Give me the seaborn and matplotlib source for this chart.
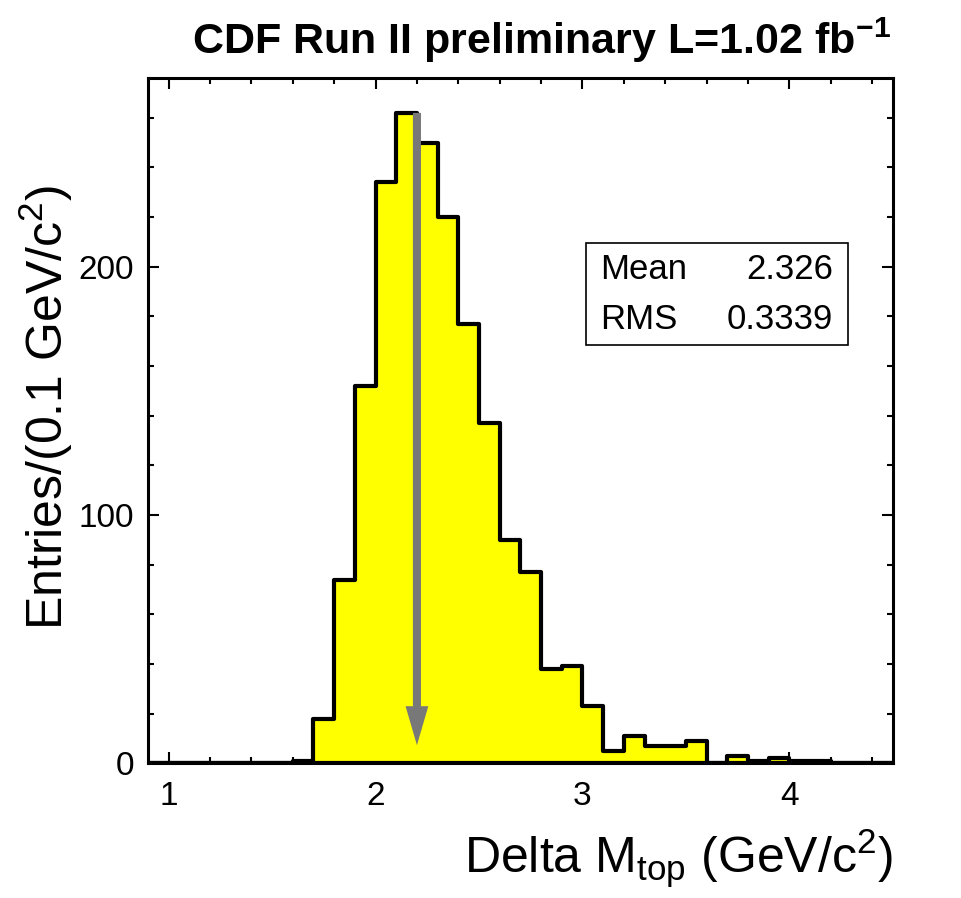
import numpy as np
import pandas as pd
import seaborn as sns
import matplotlib.pyplot as plt
from matplotlib.patches import Rectangle
from matplotlib.ticker import MultipleLocator

# Histogram contents, 0.1 GeV/c^2 bins (lower bin edges)
bin_lo = [1.6, 1.7, 1.8, 1.9, 2.0, 2.1, 2.2, 2.3, 2.4, 2.5, 2.6, 2.7, 2.8,
          2.9, 3.0, 3.1, 3.2, 3.3, 3.4, 3.5, 3.6, 3.7, 3.8, 3.9, 4.0, 4.1]
counts = [1, 18, 74, 152, 234, 262, 250, 220, 177, 137, 90, 77, 38,
          39, 23, 5, 11, 7, 7, 9, 0, 3, 1, 2, 1, 1]
x_min, x_max = 0.9, 4.5
n_bins = 36
y_max = 276
mean_val = "2.326"
rms_val = "0.3339"
arrow_x = 2.2
arrow_top, arrow_tip = 262, 7.3

df = pd.DataFrame({"x": [b + 0.05 for b in bin_lo], "w": counts})

sns.set_theme(style="ticks")
plt.rcParams["font.family"] = ["Liberation Sans", "DejaVu Sans"]
plt.rcParams["mathtext.fontset"] = "custom"
plt.rcParams["mathtext.rm"] = "Liberation Sans"
plt.rcParams["text.color"] = "black"
plt.rcParams["axes.labelcolor"] = "black"

fig = plt.figure(figsize=(9.61, 8.98), dpi=100)
ax = fig.add_axes([0.154, 0.150, 0.775, 0.763])

sns.histplot(data=df, x="x", weights="w", bins=n_bins, binrange=(x_min, x_max),
             element="step", fill=True, color="#ffff00", edgecolor="black",
             linewidth=3, alpha=1, ax=ax)

# arrow marking the cut value
ax.arrow(arrow_x, arrow_top, 0, arrow_tip - arrow_top, width=0.039,
         head_width=0.11, head_length=15.7, length_includes_head=True,
         fc="#787878", ec="none", zorder=5)

ax.set_xlim(x_min, x_max)
ax.set_ylim(0, y_max)
ax.xaxis.set_major_locator(MultipleLocator(1))
ax.xaxis.set_minor_locator(MultipleLocator(0.2))
ax.yaxis.set_major_locator(MultipleLocator(100))
ax.yaxis.set_minor_locator(MultipleLocator(20))
ax.tick_params(which="both", direction="in", top=True, right=True,
               labelsize=24, width=1.5, colors="black")
ax.tick_params(which="major", length=8, pad=10)
ax.tick_params(axis="x", which="major", pad=13)
ax.tick_params(which="minor", length=4.5)
for s in ax.spines.values():
    s.set_linewidth(2.2)
    s.set_color("black")

ax.set_xlabel(r"Delta M$\mathregular{_{top}}$ (GeV/c$\mathregular{^2}$)",
              fontsize=36, loc="right")
ax.set_ylabel(r"Entries/(0.1 GeV/c$\mathregular{^2}$)", fontsize=36, loc="top")
ax.yaxis.set_label_coords(-0.098, 0.844)
ax.xaxis.set_label_coords(1.0, -0.093)

fig.text(0.563, 0.955, r"CDF Run II preliminary L=1.02 fb$\mathregular{^{-1}}$",
         fontsize=31, fontweight="bold", ha="center", va="center")

# statistics box
ax.add_patch(Rectangle((0.588, 0.61), 0.352, 0.149, transform=ax.transAxes,
                       fill=False, edgecolor="black", linewidth=1.2))
ax.text(0.607, 0.721, "Mean", transform=ax.transAxes, fontsize=25, va="center")
ax.text(0.92, 0.721, mean_val, transform=ax.transAxes, fontsize=25, va="center", ha="right")
ax.text(0.607, 0.647, "RMS", transform=ax.transAxes, fontsize=25, va="center")
ax.text(0.92, 0.647, rms_val, transform=ax.transAxes, fontsize=25, va="center", ha="right")

fig.savefig("out.png", dpi=100, facecolor="white")
